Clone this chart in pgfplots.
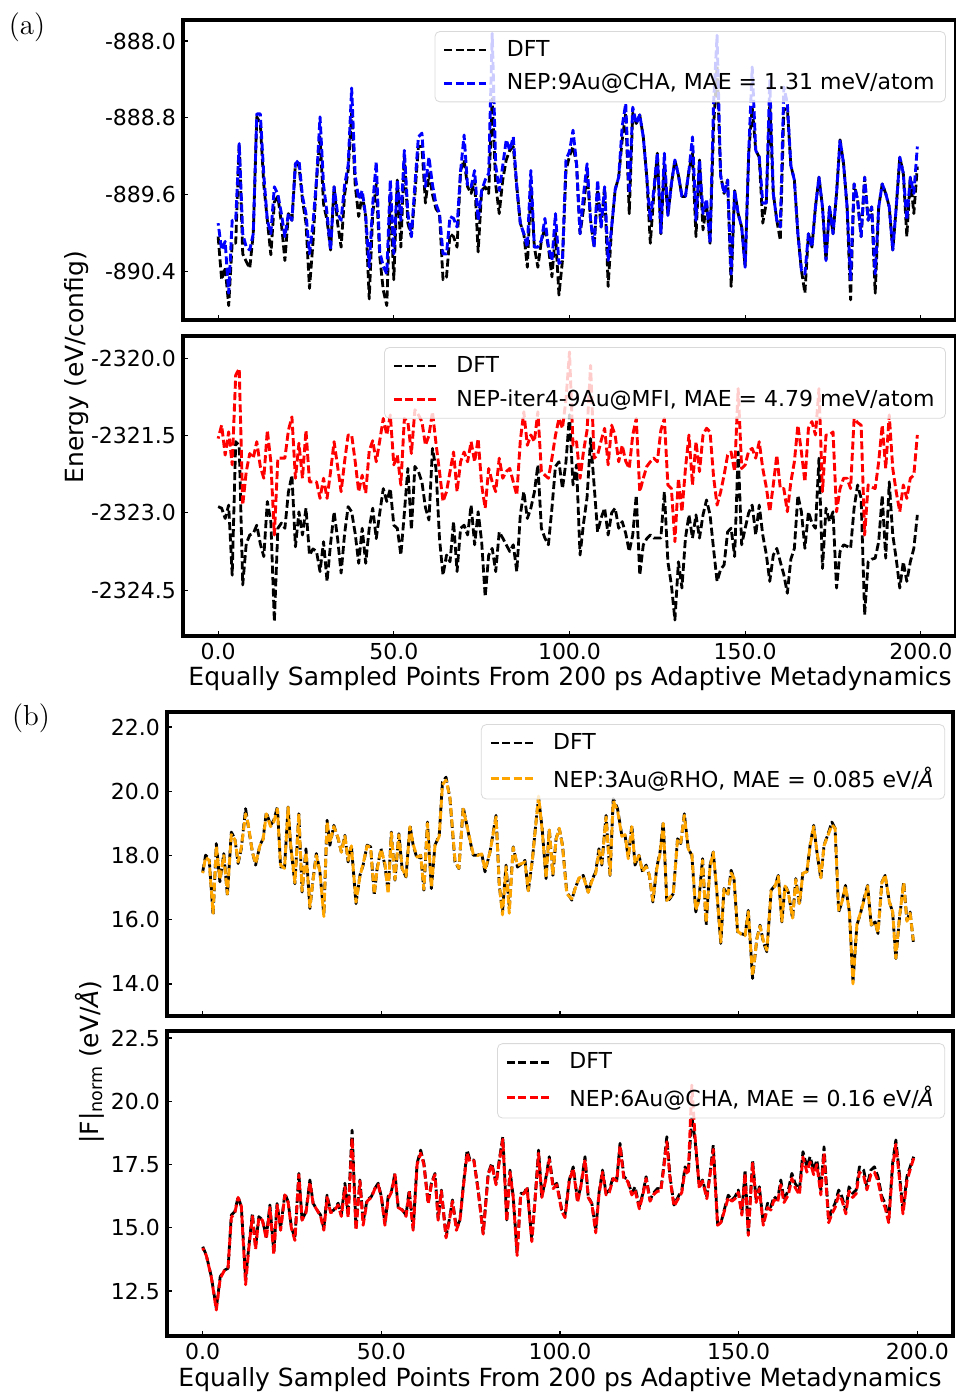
\documentclass[border=0pt]{standalone}
\usepackage{fontspec}
\setsansfont{DejaVu Sans}
\usepackage{pgfplots}
\usepackage{pgfplotstable}
\pgfplotsset{compat=1.18}

\newcommand{\fs}{\sffamily\fontsize{11}{13.2}\selectfont}
\newcommand{\lfs}{\sffamily\fontsize{12.5}{15}\selectfont}
\definecolor{mplorange}{RGB}{255,165,0}

% panel (a) top: energies, 9Au@CHA
\pgfplotstableread{
x dft nep
0 -890.04 -889.90
1 -890.49 -890.18
2 -890.36 -890.09
3 -890.76 -890.63
4 -890.11 -889.87
5 -890.11 -889.87
6 -889.07 -889.07
7 -890.22 -890.01
8 -890.30 -890.15
9 -890.37 -890.18
10 -890.01 -890.01
11 -888.79 -888.76
12 -888.86 -888.76
13 -889.50 -889.40
14 -889.87 -889.87
15 -890.23 -890.01
16 -889.68 -889.52
17 -889.62 -889.60
18 -889.90 -889.80
19 -890.29 -890.04
20 -889.80 -889.80
21 -889.87 -889.87
22 -889.28 -889.28
23 -889.30 -889.24
24 -889.66 -889.62
25 -889.90 -889.80
26 -890.58 -890.22
27 -890.10 -889.90
28 -889.45 -889.45
29 -889.00 -888.79
30 -889.70 -889.50
31 -889.87 -889.80
32 -890.18 -890.18
33 -889.52 -889.52
34 -889.90 -889.80
35 -890.15 -889.87
36 -889.60 -889.50
37 -889.35 -889.30
38 -888.75 -888.49
39 -889.50 -889.40
40 -889.83 -889.65
41 -889.60 -889.56
42 -889.83 -889.83
43 -890.69 -890.36
44 -889.80 -889.70
45 -889.49 -889.26
46 -890.25 -890.20
47 -890.60 -890.35
48 -890.76 -890.43
49 -889.60 -889.45
50 -890.49 -890.22
51 -889.45 -889.45
52 -890.15 -889.87
53 -889.20 -889.14
54 -889.90 -889.80
55 -890.04 -890.04
56 -889.60 -889.50
57 -889.10 -889.00
58 -889.10 -888.96
59 -889.69 -889.52
60 -889.38 -889.21
61 -889.60 -889.50
62 -889.75 -889.70
63 -889.80 -889.80
64 -890.49 -890.22
65 -890.46 -890.22
66 -890.01 -889.83
67 -890.04 -889.85
68 -890.15 -889.94
69 -889.35 -889.36
70 -889.24 -888.98
71 -889.52 -889.52
72 -889.59 -889.52
73 -889.45 -889.35
74 -890.20 -889.87
75 -889.56 -889.56
76 -889.52 -889.45
77 -889.59 -889.38
78 -888.60 -887.92
79 -889.50 -889.30
80 -889.80 -889.56
81 -889.45 -889.30
82 -889.24 -889.03
83 -889.14 -889.14
84 -889.10 -889.00
85 -889.52 -889.52
86 -889.90 -889.90
87 -890.01 -890.01
88 -890.36 -890.15
89 -889.52 -889.35
90 -890.15 -890.15
91 -890.36 -890.15
92 -890.08 -890.08
93 -889.95 -889.85
94 -890.15 -890.15
95 -890.46 -890.29
96 -890.00 -889.80
97 -890.65 -890.32
98 -890.29 -890.29
99 -889.35 -889.24
100 -889.20 -889.15
101 -889.10 -888.93
102 -889.28 -889.28
103 -890.01 -890.01
104 -889.75 -889.60
105 -889.35 -889.28
106 -889.87 -889.87
107 -890.15 -890.15
108 -889.55 -889.45
109 -889.94 -889.94
110 -889.52 -889.52
111 -890.56 -890.29
112 -889.94 -889.94
113 -889.55 -889.55
114 -889.42 -889.42
115 -889.03 -888.89
116 -888.75 -888.65
117 -889.80 -889.59
118 -888.75 -888.69
119 -888.86 -888.86
120 -888.77 -888.77
121 -889.00 -889.00
122 -889.42 -889.42
123 -890.11 -889.87
124 -889.60 -889.55
125 -889.17 -889.17
126 -890.01 -890.01
127 -889.30 -889.17
128 -889.82 -889.82
129 -889.49 -889.49
130 -889.24 -889.24
131 -889.40 -889.40
132 -889.62 -889.62
133 -889.62 -889.62
134 -889.35 -889.35
135 -889.17 -889.00
136 -890.04 -889.87
137 -889.24 -889.24
138 -889.97 -889.80
139 -889.70 -889.65
140 -890.11 -890.11
141 -888.90 -888.65
142 -888.25 -887.94
143 -889.40 -889.40
144 -889.59 -889.59
145 -889.45 -889.45
146 -890.56 -890.43
147 -889.56 -889.56
148 -889.80 -889.80
149 -889.94 -889.94
150 -890.36 -890.36
151 -889.17 -889.17
152 -888.69 -888.27
153 -889.14 -889.14
154 -889.21 -889.21
155 -889.90 -889.69
156 -889.69 -889.69
157 -888.65 -888.41
158 -889.59 -889.59
159 -889.87 -889.87
160 -890.08 -889.94
161 -888.72 -888.48
162 -888.70 -888.65
163 -889.30 -889.30
164 -889.45 -889.45
165 -890.01 -890.01
166 -890.39 -890.39
167 -890.63 -890.43
168 -890.01 -890.01
169 -890.15 -890.15
170 -889.73 -889.73
171 -889.42 -889.42
172 -889.73 -889.73
173 -890.29 -890.29
174 -889.73 -889.73
175 -890.01 -890.01
176 -889.59 -889.59
177 -889.03 -889.03
178 -889.28 -889.28
179 -889.73 -889.73
180 -890.70 -890.49
181 -889.49 -889.49
182 -889.66 -889.66
183 -890.04 -890.04
184 -889.42 -889.42
185 -889.87 -889.87
186 -889.73 -889.73
187 -890.63 -890.43
188 -889.73 -889.73
189 -889.49 -889.49
190 -889.59 -889.59
191 -889.73 -889.73
192 -890.18 -890.18
193 -889.73 -889.73
194 -889.21 -889.21
195 -889.38 -889.38
196 -890.04 -889.87
197 -889.42 -889.42
198 -889.80 -889.59
199 -889.31 -889.10
}\tabA

% panel (a) bottom: energies, MFI
\pgfplotstableread{
x dft nep
0 -2322.88 -2321.56
1 -2322.91 -2321.30
2 -2323.11 -2321.88
3 -2322.85 -2321.43
4 -2324.21 -2322.07
5 -2321.62 -2320.33
6 -2321.69 -2320.20
7 -2324.40 -2322.85
8 -2323.60 -2322.20
9 -2323.43 -2321.85
10 -2323.40 -2321.94
11 -2323.24 -2321.62
12 -2323.60 -2322.10
13 -2323.85 -2322.33
14 -2322.78 -2321.40
15 -2323.17 -2322.01
16 -2325.11 -2323.43
17 -2323.30 -2321.94
18 -2323.20 -2321.94
19 -2323.30 -2321.94
20 -2322.60 -2321.40
21 -2322.27 -2321.14
22 -2323.66 -2322.33
23 -2322.98 -2321.65
24 -2323.43 -2322.33
25 -2322.91 -2321.40
26 -2323.82 -2322.40
27 -2323.70 -2322.40
28 -2323.75 -2322.40
29 -2324.14 -2322.72
30 -2323.56 -2322.33
31 -2324.33 -2322.72
32 -2323.60 -2322.20
33 -2322.98 -2321.62
34 -2323.50 -2322.10
35 -2324.17 -2322.59
36 -2323.40 -2322.00
37 -2322.88 -2321.49
38 -2322.98 -2321.49
39 -2323.40 -2322.00
40 -2323.98 -2322.59
41 -2323.30 -2322.27
42 -2323.98 -2322.62
43 -2323.30 -2321.80
44 -2322.91 -2321.60
45 -2323.50 -2322.01
46 -2323.00 -2321.60
47 -2322.53 -2321.17
48 -2322.78 -2321.49
49 -2322.53 -2321.10
50 -2323.24 -2322.07
51 -2323.30 -2321.88
52 -2323.82 -2322.46
53 -2323.00 -2321.17
54 -2322.14 -2321.23
55 -2323.33 -2321.85
56 -2322.10 -2321.00
57 -2322.20 -2321.10
58 -2322.40 -2321.23
59 -2322.90 -2321.69
60 -2323.14 -2321.50
61 -2321.75 -2321.04
62 -2322.14 -2321.65
63 -2323.50 -2322.20
64 -2324.21 -2322.78
65 -2323.82 -2322.59
66 -2323.95 -2322.20
67 -2323.17 -2321.82
68 -2324.14 -2322.59
69 -2323.30 -2322.01
70 -2323.24 -2321.82
71 -2323.43 -2322.01
72 -2322.85 -2321.62
73 -2323.62 -2322.01
74 -2322.98 -2321.56
75 -2323.56 -2322.46
76 -2324.63 -2322.91
77 -2323.82 -2322.14
78 -2323.69 -2322.40
79 -2324.14 -2322.59
80 -2323.37 -2321.94
81 -2323.49 -2322.33
82 -2323.62 -2322.20
83 -2323.75 -2322.14
84 -2323.62 -2322.40
85 -2324.14 -2322.66
86 -2323.04 -2321.60
87 -2322.59 -2321.04
88 -2323.11 -2321.69
89 -2322.91 -2321.49
90 -2322.60 -2321.62
91 -2322.07 -2321.04
92 -2323.30 -2322.20
93 -2323.49 -2322.27
94 -2323.62 -2322.33
95 -2322.91 -2321.94
96 -2322.10 -2321.50
97 -2322.01 -2321.17
98 -2322.53 -2321.36
99 -2322.01 -2320.80
100 -2321.10 -2319.88
101 -2322.46 -2321.69
102 -2322.07 -2321.62
103 -2323.82 -2322.33
104 -2323.20 -2321.80
105 -2322.70 -2321.40
106 -2321.56 -2320.14
107 -2322.46 -2321.94
108 -2323.37 -2321.88
109 -2323.10 -2321.60
110 -2322.91 -2321.36
111 -2323.43 -2322.07
112 -2323.00 -2321.30
113 -2322.91 -2321.50
114 -2323.30 -2322.01
115 -2323.17 -2321.69
116 -2323.40 -2322.00
117 -2323.75 -2322.14
118 -2323.43 -2321.49
119 -2322.66 -2321.17
120 -2324.21 -2322.59
121 -2323.62 -2322.33
122 -2323.50 -2322.10
123 -2323.43 -2322.01
124 -2323.49 -2321.94
125 -2323.49 -2322.01
126 -2323.49 -2321.40
127 -2322.59 -2321.17
128 -2323.95 -2322.46
129 -2324.40 -2322.53
130 -2325.08 -2323.56
131 -2323.95 -2322.33
132 -2324.46 -2322.98
133 -2323.49 -2322.14
134 -2323.04 -2321.49
135 -2323.49 -2322.46
136 -2323.04 -2321.62
137 -2323.49 -2322.20
138 -2323.04 -2321.49
139 -2322.75 -2321.36
140 -2323.04 -2321.43
141 -2323.70 -2322.30
142 -2324.33 -2322.85
143 -2324.10 -2322.60
144 -2324.01 -2322.27
145 -2323.37 -2321.88
146 -2323.30 -2321.82
147 -2323.85 -2322.20
148 -2321.82 -2320.59
149 -2323.62 -2322.14
150 -2323.30 -2322.07
151 -2323.00 -2321.80
152 -2322.85 -2321.75
153 -2323.43 -2321.94
154 -2322.85 -2321.62
155 -2323.43 -2322.14
156 -2323.80 -2322.50
157 -2324.33 -2322.98
158 -2323.82 -2322.46
159 -2323.69 -2321.88
160 -2323.95 -2322.53
161 -2324.20 -2322.53
162 -2324.56 -2322.98
163 -2323.90 -2322.40
164 -2323.69 -2322.01
165 -2322.66 -2321.30
166 -2322.98 -2321.82
167 -2323.69 -2322.40
168 -2322.98 -2321.36
169 -2323.20 -2321.23
170 -2323.30 -2321.49
171 -2321.94 -2320.59
172 -2324.08 -2322.59
173 -2322.91 -2321.49
174 -2323.17 -2321.49
175 -2322.98 -2321.43
176 -2324.46 -2322.98
177 -2323.75 -2322.53
178 -2323.62 -2322.33
179 -2323.65 -2322.33
180 -2323.69 -2322.53
181 -2322.91 -2321.17
182 -2322.46 -2321.25
183 -2322.72 -2321.30
184 -2324.98 -2323.43
185 -2323.95 -2322.46
186 -2323.90 -2322.50
187 -2323.88 -2322.53
188 -2323.56 -2322.01
189 -2322.66 -2321.30
190 -2323.88 -2322.14
191 -2322.40 -2321.10
192 -2323.43 -2322.14
193 -2323.90 -2322.60
194 -2324.46 -2322.98
195 -2323.95 -2322.46
196 -2324.33 -2322.72
197 -2323.95 -2322.33
198 -2323.69 -2322.27
199 -2323.04 -2321.49
}\tabB

% panel (b) top: forces, RHO
\pgfplotstableread{
x dft nep
0 17.49 17.45
0.8 18.01 17.95
1.8 17.90 17.85
2.9 16.14 16.20
3.8 18.37 18.30
4.8 17.18 17.25
5.9 18.06 18.00
6.9 16.76 16.80
8.0 18.73 18.65
9.0 18.52 18.50
9.9 17.75 17.80
10.8 18.21 18.25
12.0 19.46 19.30
12.7 18.94 19.00
13.9 18.11 18.10
14.8 17.70 17.75
16.0 18.32 18.30
16.9 18.52 18.50
17.8 19.35 19.30
19.0 18.94 18.90
19.9 19.10 19.05
20.9 19.51 19.45
21.8 17.64 17.70
22.9 17.64 17.60
23.9 19.51 19.50
24.6 18.32 18.35
25.8 17.12 17.15
26.9 19.30 19.30
27.8 16.86 16.90
28.9 18.21 18.10
30.0 16.35 16.40
30.9 17.28 17.25
31.8 18.06 18.00
32.8 17.49 17.50
33.9 16.14 16.10
34.8 19.10 19.05
35.6 18.32 18.40
36.7 18.94 18.90
37.9 18.52 18.55
38.8 18.11 18.10
39.8 18.63 18.60
40.7 17.80 17.85
41.6 18.32 18.30
42.9 16.50 16.55
44.0 17.38 17.35
44.9 17.70 17.75
46.0 18.32 18.30
47.0 18.27 18.25
48.0 16.76 16.80
48.8 17.59 17.55
49.9 18.21 18.20
51.0 17.70 17.75
51.9 16.86 16.80
52.8 18.73 18.70
53.8 17.23 17.25
54.9 18.68 18.65
55.8 17.59 17.60
56.9 17.33 17.35
58.0 18.94 18.90
58.9 18.32 18.35
60.0 17.90 17.95
61.0 18.01 18.00
61.9 16.92 16.95
62.9 19.04 19.00
64.0 16.97 17.00
65.0 18.32 18.30
66.2 18.63 18.60
67.1 20.29 20.20
68.1 20.44 20.35
69.2 19.77 19.80
70.6 17.80 17.85
71.7 17.59 17.60
72.9 19.51 19.45
74.3 18.73 18.75
75.7 18.01 18.05
76.9 18.01 18.00
78.1 18.06 18.05
79.0 17.49 17.55
80.4 18.11 18.10
82.1 19.25 19.20
83.0 17.07 17.10
83.9 16.24 16.15
84.9 17.70 17.65
85.8 16.35 16.20
86.9 18.27 18.25
88.1 17.64 17.70
89.3 17.75 17.75
90.2 17.85 17.80
91.1 16.86 16.90
92.3 17.90 17.90
93.0 18.73 18.70
94.0 19.82 19.85
95.0 18.84 18.80
96.1 17.28 17.30
97.0 18.84 18.80
98.0 17.38 17.40
98.9 18.52 18.50
99.8 18.84 18.85
100.7 18.32 18.30
101.9 16.86 16.80
103.3 16.61 16.65
104.2 16.97 16.95
105.3 17.28 17.30
106.5 17.38 17.35
107.9 16.86 16.85
108.9 17.23 17.20
110.0 17.49 17.45
110.9 18.21 18.15
111.7 17.70 17.75
112.9 19.25 19.20
114.0 17.38 17.40
114.9 19.77 19.70
116.1 19.46 19.40
117.3 18.63 18.60
118.2 18.63 18.65
119.1 17.95 17.90
120.1 18.94 18.90
121.0 17.70 17.75
122.1 18.01 18.00
123.1 17.49 17.50
124.1 17.70 17.65
125.0 17.38 17.40
126.0 16.55 16.60
127.1 17.64 17.60
128.0 18.11 18.05
128.9 19.04 19.00
129.9 16.55 16.60
130.8 16.66 16.70
131.7 16.81 16.80
132.9 18.52 18.50
133.8 18.37 18.40
134.8 19.30 19.25
135.9 18.21 18.20
136.9 18.01 18.05
138.0 16.24 16.30
138.9 16.66 16.60
139.9 17.90 17.85
140.9 15.83 15.90
142.0 17.70 17.65
142.9 18.11 18.10
143.9 16.86 16.90
145.0 15.26 15.30
145.9 16.97 16.95
147.0 16.76 16.80
147.9 17.54 17.45
148.7 17.28 17.30
149.7 15.62 15.65
150.7 15.57 15.55
151.8 15.52 15.50
152.7 16.29 16.25
153.9 14.17 14.25
155.1 15.41 15.40
156.0 15.83 15.80
156.9 15.31 15.35
157.9 15.00 15.05
159.1 16.92 16.90
160.2 17.07 17.05
161.1 17.38 17.35
162.1 15.93 15.95
163.0 17.07 17.05
163.9 16.86 16.85
165.1 16.03 16.05
166.0 17.28 17.25
167.0 16.45 16.50
168.0 17.49 17.45
169.1 17.49 17.50
170.0 18.32 18.30
171.0 18.94 18.90
171.9 18.11 18.15
173.0 17.28 17.30
173.9 18.32 18.30
174.9 18.63 18.60
176.1 19.04 18.95
177.0 18.84 18.85
178.0 16.24 16.30
178.9 16.55 16.55
179.9 17.07 17.05
181.0 16.24 16.25
182.0 14.06 14.00
183.1 15.83 15.85
184.2 16.24 16.25
185.1 16.66 16.60
186.1 17.07 17.05
187.1 15.83 15.85
188.2 15.93 15.90
189.0 15.57 15.60
190.1 17.18 17.15
191.0 17.38 17.40
192.2 16.55 16.55
193.1 16.24 16.25
194.0 14.79 14.80
195.0 16.03 16.05
196.2 17.18 17.15
197.1 15.98 15.95
198.0 16.24 16.20
198.9 15.31 15.35
}\tabC

% panel (b) bottom: forces, 6Au@CHA
\pgfplotstableread{
x dft nep
0 14.25 14.20
1.0 13.92 13.90
2.4 13.07 13.05
3.8 11.81 11.75
4.9 13.07 13.00
6.2 13.33 13.35
7.1 13.40 13.45
8.0 15.50 15.40
9.0 15.64 15.60
9.9 16.23 16.20
10.8 15.83 15.85
12.0 13.00 12.75
12.9 14.25 14.20
13.9 15.57 15.45
14.8 14.25 14.15
15.7 15.44 15.40
16.7 15.31 15.30
17.8 14.65 14.55
18.8 15.90 15.80
19.9 14.05 13.95
20.8 15.96 15.90
21.8 14.97 14.90
23.0 16.36 16.30
23.9 16.03 16.00
24.8 15.04 15.00
25.8 14.58 14.50
26.9 17.15 17.10
27.8 15.31 15.30
28.9 15.64 15.60
30.0 16.89 16.80
30.9 15.97 15.95
32.0 15.70 15.70
33.0 15.50 15.45
33.9 14.98 14.90
34.8 16.29 16.20
35.8 15.64 15.60
36.7 15.70 15.65
37.9 15.97 15.90
38.8 15.50 15.45
39.8 16.76 16.60
40.7 15.50 15.40
41.8 18.86 18.55
42.9 14.98 14.90
44.0 16.89 16.85
44.9 15.24 15.10
46.0 16.10 16.05
47.2 16.23 16.20
48.2 16.56 16.55
49.1 16.76 16.70
50.0 16.23 16.20
51.0 15.17 15.10
51.9 16.23 16.15
52.8 16.43 16.40
53.8 17.15 17.10
54.7 15.83 15.80
55.9 15.70 15.70
56.9 15.50 15.45
57.8 16.49 16.40
58.9 14.98 14.90
60.0 17.55 17.50
61.0 18.07 17.95
61.9 17.55 17.50
63.1 15.97 15.95
64.0 16.76 16.70
65.0 17.15 17.10
65.9 15.37 15.30
66.8 16.49 16.45
68.1 14.65 14.60
69.0 15.31 15.25
69.9 16.10 16.05
71.0 14.98 14.90
72.0 15.31 15.30
72.9 16.62 16.55
74.0 18.07 17.95
74.8 17.68 17.60
75.9 17.68 17.65
77.1 16.49 16.45
78.5 14.78 14.75
79.9 17.15 17.10
80.9 17.55 17.50
82.1 16.76 16.70
83.0 17.68 17.60
84.0 18.60 18.50
85.1 15.31 15.25
86.0 17.28 17.20
86.9 16.23 16.20
88.0 13.99 13.90
89.0 16.36 16.30
89.9 16.36 16.35
90.8 16.62 16.55
92.1 14.52 14.45
93.0 16.10 16.05
94.0 18.07 17.95
94.9 16.23 16.20
96.1 17.02 16.95
97.0 17.81 17.70
98.1 16.62 16.55
99.1 16.76 16.70
100.5 15.70 15.65
101.4 15.50 15.40
102.6 16.89 16.85
103.7 17.41 17.35
104.9 16.10 16.00
105.8 16.62 16.60
107.0 17.81 17.70
107.9 16.23 16.20
108.9 15.97 15.95
110.0 14.91 14.80
110.9 16.36 16.30
111.9 17.28 17.20
112.9 16.36 16.30
113.8 16.49 16.40
114.9 17.02 16.95
115.9 16.89 16.85
116.8 18.34 18.25
117.9 17.02 16.90
118.9 16.89 16.85
120.1 16.36 16.30
121.0 16.62 16.50
122.2 15.83 15.75
123.2 16.36 16.30
124.1 17.02 16.95
125.2 16.10 16.05
126.1 16.36 16.30
127.3 16.56 16.45
128.2 16.49 16.45
128.9 17.28 17.20
129.9 18.60 18.40
130.8 17.02 16.95
131.9 15.90 15.85
133.1 16.23 16.15
134.1 16.49 16.40
135.0 17.41 17.30
135.9 17.15 17.10
136.9 19.40 20.64
137.8 18.47 18.60
139.0 16.62 16.55
139.9 16.89 16.85
141.1 16.23 16.15
142.0 17.15 17.10
142.9 18.27 18.10
144.1 15.17 15.10
145.0 15.17 15.20
146.2 15.83 15.75
147.1 16.29 16.20
148.1 16.10 16.05
149.0 16.23 16.15
149.9 16.49 16.40
150.9 15.57 15.50
151.8 17.28 17.15
152.7 14.78 14.70
153.9 17.68 17.55
154.9 16.10 16.00
155.8 16.62 16.55
156.9 15.17 15.10
158.1 15.97 15.80
159.0 15.83 15.70
159.9 16.23 16.10
160.9 16.10 16.00
161.8 16.89 16.70
162.7 16.10 16.00
163.9 16.49 16.30
164.9 17.15 16.95
165.8 16.76 16.60
167.0 16.49 16.30
168.0 18.01 17.80
169.1 17.41 17.20
170.0 17.81 17.60
171.0 17.28 17.10
171.9 17.68 17.50
173.0 16.49 16.30
173.9 18.20 17.95
175.2 15.31 15.20
176.1 15.70 15.55
177.0 15.97 15.80
178.0 16.49 16.30
178.9 16.23 16.10
180.0 15.70 15.55
180.9 16.62 16.45
181.9 16.36 16.20
182.9 16.49 16.35
183.8 17.41 17.20
185.0 17.28 17.05
185.9 16.62 16.50
187.0 17.28 17.10
188.0 17.41 17.20
189.0 17.02 16.85
190.1 16.23 16.10
191.0 15.97 15.80
192.0 15.31 15.20
193.1 17.55 17.40
194.0 18.47 18.30
194.9 17.28 17.10
196.0 15.70 15.55
197.1 17.02 16.85
198.0 17.41 17.30
199.0 17.81 17.75
}\tabD

\pgfplotsset{
  legend image code/.code={\draw[#1, dash phase=0pt] (0pt,0pt) -- (21pt,0pt);},
  panel/.style={
    scale only axis,
    anchor=north west,
    xmin=-10, xmax=210,
    axis line style={line width=2pt},
    tick align=inside,
    tick pos=left,
    major tick length=2.5pt,
    tick style={black, line width=0.6pt},
    xtick={0,50,100,150,200},
    xticklabels={0.0,50.0,100.0,150.0,200.0},
    tick label style={font=\fs},
    legend cell align=left,
    legend style={at={(0.987,0.963)}, anchor=north east, font=\fs,
      draw=black!15, rounded corners=2.5pt, fill=white, fill opacity=0.8,
      text opacity=1, inner xsep=4pt, inner ysep=3pt, row sep=4pt,
      nodes={inner sep=1.5pt},
      /tikz/every odd column/.append style={column sep=8pt}},
  },
  dft/.style={black, line width=1.4pt, line join=round,
    dash pattern=on 4pt off 1.7pt},
  nep/.style={line width=1.45pt, line join=round,
    dash pattern=on 4pt off 1.7pt, dash phase=2.8pt},
}

\begin{document}
\begin{tikzpicture}
\useasboundingbox (0,0) rectangle (478pt,-696pt);

% (a) upper
\begin{axis}[panel, at={(91.5pt,-10pt)}, width=386.5pt, height=150pt,
  ymin=-890.91, ymax=-887.78,
  ytick={-890.4,-889.6,-888.8,-888.0},
  yticklabels={-890.4,-889.6,-888.8,-888.0},
  xticklabels={}]
\addplot[dft] table[x=x, y=dft] {\tabA};
\addplot[nep, blue] table[x=x, y=nep] {\tabA};
\legend{DFT, {NEP:9Au@CHA, MAE = 1.31 meV/atom}}
\end{axis}

% (a) lower
\begin{axis}[panel, at={(91.5pt,-168pt)}, width=386.5pt, height=150pt,
  ymin=-2325.39, ymax=-2319.57,
  ytick={-2324.5,-2323,-2321.5,-2320},
  yticklabels={-2324.5,-2323.0,-2321.5,-2320.0}]
\addplot[dft] table[x=x, y=dft] {\tabB};
\addplot[nep, red] table[x=x, y=nep] {\tabB};
\legend{DFT, {NEP-iter4-9Au@MFI, MAE = 4.79 meV/atom}}
\end{axis}

% (b) upper
\begin{axis}[panel, at={(83.5pt,-356pt)}, width=393pt, height=152pt,
  ymin=13.0, ymax=22.47,
  ytick={14,16,18,20,22},
  yticklabels={14.0,16.0,18.0,20.0,22.0},
  xticklabels={},
  legend style={at={(0.99,0.96)}}]
\addplot[dft] table[x=x, y=dft] {\tabC};
\addplot[nep, mplorange] table[x=x, y=nep] {\tabC};
\legend{DFT, {NEP:3Au@RHO, MAE = 0.085 eV/{\itshape Å}}}
\end{axis}

% (b) lower
\begin{axis}[panel, at={(83.5pt,-515.5pt)}, width=393pt, height=152.5pt,
  ymin=10.72, ymax=22.78,
  ytick={12.5,15,17.5,20,22.5},
  yticklabels={12.5,15.0,17.5,20.0,22.5},
  legend style={at={(0.99,0.96)}}]
\addplot[dft] table[x=x, y=dft] {\tabD};
\addplot[nep, red] table[x=x, y=nep] {\tabD};
\legend{DFT, {NEP:6Au@CHA, MAE = 0.16 eV/{\itshape Å}}}
\end{axis}

% labels
\node[font=\rmfamily\fontsize{14.5}{17}\selectfont] at (13.5pt,-13.5pt) {(a)};
\node[font=\rmfamily\fontsize{14.5}{17}\selectfont] at (15.5pt,-359pt) {(b)};
\node[font=\lfs, rotate=90] at (38.5pt,-183.5pt) {Energy (eV/config)};
\node[font=\lfs, rotate=90] at (45pt,-531pt) {|F|\textsubscript{norm} (eV/{\itshape Å})};
\node[font=\lfs] at (285pt,-339.5pt) {Equally Sampled Points From 200 ps Adaptive Metadynamics};
\node[font=\lfs] at (280pt,-690pt) {Equally Sampled Points From 200 ps Adaptive Metadynamics};
\end{tikzpicture}
\end{document}
